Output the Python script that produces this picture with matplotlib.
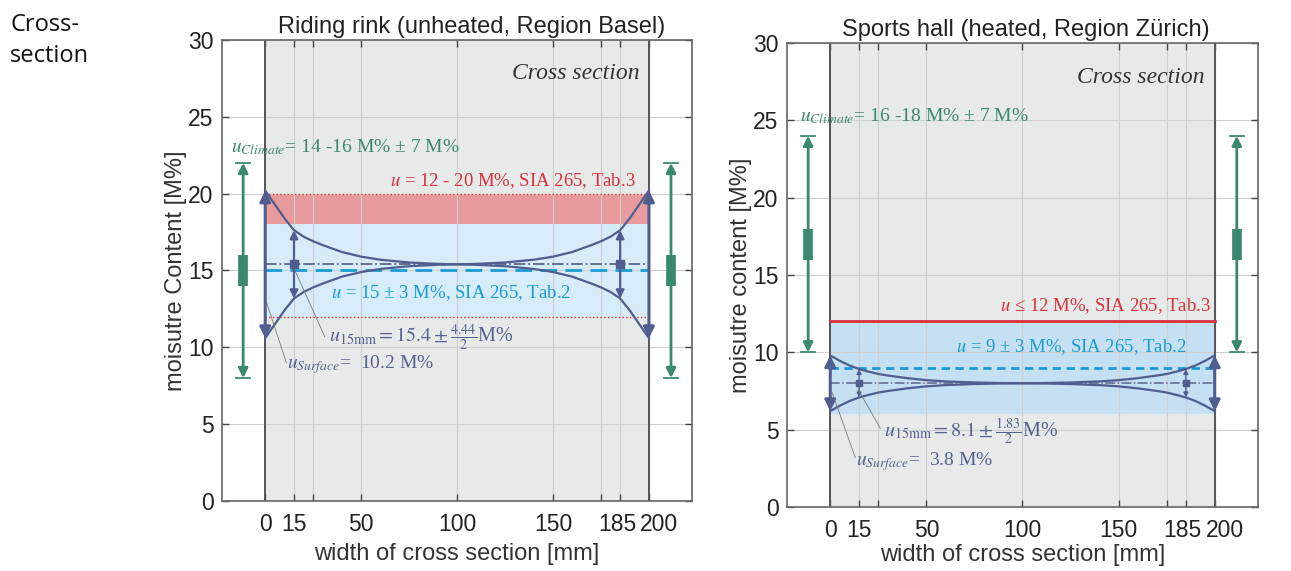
import matplotlib.pyplot as plt
import matplotlib.transforms as mtransforms

plt.rcParams['mathtext.fontset'] = 'stix'
plt.rcParams['font.family'] = ['Liberation Sans', 'DejaVu Sans']

# axis ticks
x_ticks = [0, 15, 25, 50, 100, 150, 175, 185, 200]
x_labels = ['0', '15', '', '50', '100', '150', '', '185', '200']
y_ticks = [0, 5, 10, 15, 20, 25, 30]

# moisture profiles across the cross section
x_profile = [0, 5, 10, 15, 20, 25, 30, 40, 50, 60, 75, 90, 100,
             110, 125, 140, 150, 160, 170, 175, 180, 185, 190, 195, 200]
basel_upper = [20.2, 19.3, 18.4, 17.62, 17.2, 16.9, 16.65, 16.2, 15.9, 15.7, 15.52, 15.43, 15.4,
               15.43, 15.52, 15.7, 15.9, 16.2, 16.65, 16.9, 17.2, 17.62, 18.4, 19.3, 20.2]
basel_lower = [10.6, 11.5, 12.4, 13.18, 13.6, 13.9, 14.15, 14.6, 14.9, 15.1, 15.28, 15.37, 15.4,
               15.37, 15.28, 15.1, 14.9, 14.6, 14.15, 13.9, 13.6, 13.18, 12.4, 11.5, 10.6]
zurich_upper = [9.8, 9.45, 9.15, 8.92, 8.75, 8.6, 8.5, 8.33, 8.2, 8.12, 8.05, 8.01, 8.0,
                8.01, 8.05, 8.12, 8.2, 8.33, 8.5, 8.6, 8.75, 8.92, 9.15, 9.45, 9.8]
zurich_lower = [6.2, 6.55, 6.85, 7.08, 7.25, 7.4, 7.5, 7.67, 7.8, 7.88, 7.95, 7.99, 8.0,
                7.99, 7.95, 7.88, 7.8, 7.67, 7.5, 7.4, 7.25, 7.08, 6.85, 6.55, 6.2]

# key values per building
basel_surface = [10.6, 20.2]
basel_15mm = [13.18, 17.62]
basel_mean = 15.4
basel_tab2 = 15
basel_tab2_band = [12, 18]
basel_tab3_band = [12, 20]
basel_climate = [8, 22]
basel_climate_core = [14, 16]

zurich_surface = [6.2, 9.8]
zurich_15mm = [7.08, 8.92]
zurich_mean = 8.0
zurich_tab2 = 9
zurich_tab2_band = [6, 12]
zurich_tab3 = 12
zurich_climate = [10, 24]
zurich_climate_core = [16, 18]

GREEN = '#3b8871'
SLATE = '#4f5d8f'
SLATE_TXT = '#56628f'
RED = '#d93039'
CYAN = '#1b9bd3'
GRAY_BG = '#e8e9e9'
SPINE = '#444444'
SERIF = ['Liberation Serif', 'DejaVu Serif']


def double_arrow(ax, x, y0, y1, color, lw, scale, z=4):
    ax.annotate('', xy=(x, y1), xytext=(x, y0),
                arrowprops=dict(arrowstyle='<|-|>', color=color, lw=lw,
                                mutation_scale=scale, shrinkA=0, shrinkB=0),
                zorder=z)


def climate_bar(ax, x, rng, core):
    ax.plot([x - 3.5, x + 3.5], [rng[0], rng[0]], color=GREEN, lw=1.3, zorder=4)
    ax.plot([x - 3.5, x + 3.5], [rng[1], rng[1]], color=GREEN, lw=1.3, zorder=4)
    double_arrow(ax, x, rng[0], rng[1], GREEN, 2.0, 14)
    ax.plot([x, x], core, color=GREEN, lw=7, solid_capstyle='butt', zorder=5)


def shift_label(ax, idx, px):
    lab = ax.get_xticklabels()[idx]
    lab.set_transform(lab.get_transform() + mtransforms.ScaledTranslation(px / 100, 0, ax.figure.dpi_scale_trans))


def setup_axes(ax, title, ylabel, title_x, xlabelpad):
    ax.set_xlim(-22.5, 222.5)
    ax.set_ylim(0, 30)
    ax.set_xticks(x_ticks)
    ax.set_xticklabels(x_labels)
    ax.set_yticks(y_ticks)
    ax.tick_params(direction='in', length=5, width=1, color=SPINE, labelsize=16.5,
                   top=True, right=True, labelcolor='#222222')
    ax.tick_params(axis='x', pad=9)
    ax.tick_params(axis='y', pad=6)
    # 185 and 200 are pushed apart a little, as in the original
    shift_label(ax, -2, -3)
    shift_label(ax, -1, 10)
    for s in ax.spines.values():
        s.set_color('#666666')
        s.set_linewidth(1.2)
    ax.set_axisbelow('line')
    ax.grid(True, color='#cfcfcf', lw=0.8)
    ax.axvspan(0, 200, color=GRAY_BG, zorder=0)
    ax.axvline(0, color='#555555', lw=1.4, zorder=2)
    ax.axvline(200, color='#555555', lw=1.4, zorder=2)
    ax.set_title(title, fontsize=17, color='#222222', pad=5, x=title_x)
    ax.set_xlabel('width of cross section [mm]', fontsize=17, color='#333333', labelpad=xlabelpad)
    ax.set_ylabel(ylabel, fontsize=17, color='#333333', labelpad=1)
    ax.text(195, 27.8, 'Cross section', fontsize=17, family=SERIF, style='italic',
            ha='right', va='center', color='#333333', zorder=6)


def draw_profile(ax, upper, lower, surface, mm15, mean, small):
    ax.plot(x_profile, upper, color=SLATE, lw=1.6, zorder=4)
    ax.plot(x_profile, lower, color=SLATE, lw=1.6, zorder=4)
    for x in (0, 200):
        double_arrow(ax, x, surface[0], surface[1], SLATE, 2.2, 16)
    for x in (15, 185):
        if small:
            double_arrow(ax, x, mm15[0], mm15[1], SLATE, 1.0, 7)
            ax.plot([x], [mean], marker='s', ms=5, color=SLATE, zorder=6)
        else:
            double_arrow(ax, x, mm15[0], mm15[1], SLATE, 1.6, 12)
            ax.plot([x], [mean], marker='s', ms=6, color=SLATE, zorder=6)


fig = plt.figure(figsize=(12.91, 5.71), dpi=100)
fig.text(0.0078, 0.978, 'Cross-\nsection', fontsize=17, family=['Open Sans', 'DejaVu Sans'],
         ha='left', va='top', linespacing=1.4, color='#111111')

# ---- left: riding rink Basel
ax1 = fig.add_axes([0.1720, 0.1226, 0.3641, 0.8074])
setup_axes(ax1, 'Riding rink (unheated, Region Basel)', 'moisutre Content [M%]', 0.532, 5)
ax1.fill_between([0, 200], basel_tab3_band[0], basel_tab3_band[1], color='#e99a9d', lw=0, zorder=1)
ax1.fill_between([0, 200], basel_tab2_band[0], basel_tab2_band[1], color='#d6ecf9', lw=0, zorder=1)
ax1.plot([0, 200], [basel_tab3_band[1]] * 2, color=RED, lw=1, ls=':', zorder=3)
ax1.plot([0, 200], [basel_tab3_band[0]] * 2, color=RED, lw=1, ls=':', zorder=3)
ax1.plot([0, 200], [basel_tab2] * 2, color=CYAN, lw=2, ls=(0, (6, 3)), zorder=3)
ax1.plot([0, 200], [basel_mean] * 2, color='#5b6688', lw=1.3, ls='-.', zorder=3)
draw_profile(ax1, basel_upper, basel_lower, basel_surface, basel_15mm, basel_mean, False)
climate_bar(ax1, -11.5, basel_climate, basel_climate_core)
climate_bar(ax1, 211.5, basel_climate, basel_climate_core)

ax1.plot([15.5, 31], [15.0, 10.7], color='#777777', lw=0.6, zorder=5)
ax1.plot([0.5, 11], [13.0, 9.0], color='#777777', lw=0.6, zorder=5)
ax1.text(-18, 23.05, r'$u_{Climate}$= 14 -16 M% ± 7 M%', fontsize=14, family=SERIF,
         color=GREEN, ha='left', va='center', zorder=6)
ax1.text(193, 20.8, r'$u$ = 12 - 20 M%, SIA 265, Tab.3', fontsize=13.5, family=SERIF,
         color=RED, ha='right', va='center', zorder=6)
ax1.text(97, 13.5, r'$u$ = 15 ± 3 M%, SIA 265, Tab.2', fontsize=13.5, family=SERIF,
         color=CYAN, ha='center', va='center', zorder=6)
ax1.text(33, 10.6, r'$u_{\mathrm{15mm}} = 15.4 \pm \frac{4.44}{2}$M%', fontsize=14.5, family=SERIF,
         color=SLATE_TXT, ha='left', va='center', zorder=6)
ax1.text(11.5, 8.85, r'$u_{Surface}$=  10.2 M%', fontsize=14, family=SERIF,
         color=SLATE_TXT, ha='left', va='center', zorder=6)

# ---- right: sports hall Zurich
ax2 = fig.add_axes([0.6096, 0.1121, 0.3648, 0.8126])
setup_axes(ax2, 'Sports hall (heated, Region Zürich)', 'moisutre content [M%]', 0.508, 1)
ax2.fill_between([0, 200], zurich_tab2_band[0], zurich_tab2_band[1], color='#c4e0f2', lw=0, zorder=1)
ax2.plot([0, 200], [zurich_tab3] * 2, color=RED, lw=2, zorder=3)
ax2.plot([0, 200], [zurich_tab2] * 2, color=CYAN, lw=2, ls=(0, (3, 2)), zorder=3)
ax2.plot([0, 200], [zurich_mean] * 2, color='#5b6688', lw=1.1, ls='-.', zorder=3)
draw_profile(ax2, zurich_upper, zurich_lower, zurich_surface, zurich_15mm, zurich_mean, True)
climate_bar(ax2, -11.5, zurich_climate, zurich_climate_core)
climate_bar(ax2, 211.5, zurich_climate, zurich_climate_core)

ax2.plot([14.5, 26], [7.6, 5.1], color='#777777', lw=0.6, zorder=5)
ax2.plot([1, 13], [7.4, 3.2], color='#777777', lw=0.6, zorder=5)
ax2.text(-15.5, 25.3, r'$u_{Climate}$= 16 -18 M% ± 7 M%', fontsize=14, family=SERIF,
         color=GREEN, ha='left', va='center', zorder=6)
ax2.text(198, 13.0, r'$u$ ≤ 12 M%, SIA 265, Tab.3', fontsize=13.5, family=SERIF,
         color=RED, ha='right', va='center', zorder=6)
ax2.text(185.5, 10.36, r'$u$ = 9 ± 3 M%, SIA 265, Tab.2', fontsize=13.5, family=SERIF,
         color=CYAN, ha='right', va='center', zorder=6)
ax2.text(28, 4.87, r'$u_{\mathrm{15mm}} = 8.1 \pm \frac{1.83}{2}$M%', fontsize=14.5, family=SERIF,
         color=SLATE_TXT, ha='left', va='center', zorder=6)
ax2.text(13.5, 2.93, r'$u_{Surface}$=  3.8 M%', fontsize=14, family=SERIF,
         color=SLATE_TXT, ha='left', va='center', zorder=6)

fig.savefig('out.png', dpi=100)
